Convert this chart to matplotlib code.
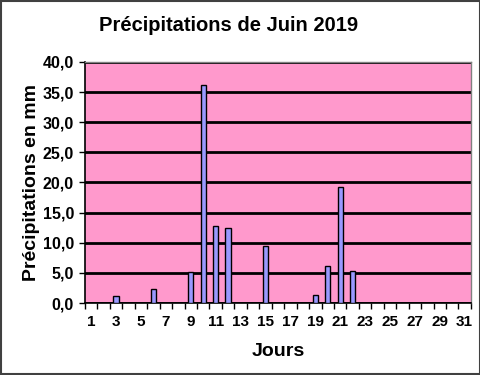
import matplotlib
matplotlib.use("Agg")
import matplotlib.pyplot as plt
import numpy as np

plt.rcParams['font.family'] = ['Liberation Sans', 'DejaVu Sans']
plt.rcParams['font.weight'] = 'bold'

jours = list(range(1, 32))
pluie = [0, 0, 1.1, 0, 0, 2.3, 0, 0, 5.1, 36.1, 12.8, 12.4, 0, 0, 9.4, 0,
         0, 0, 1.3, 6.2, 19.2, 5.3, 0, 0, 0, 0, 0, 0, 0, 0, 0]
yticks = [0, 5, 10, 15, 20, 25, 30, 35, 40]

fig = plt.figure(figsize=(4.81, 3.75), dpi=100)
ax = fig.add_axes([0.1767, 0.192, 0.8023, 0.643])
ax.set_facecolor('#FF99CC')

x = np.arange(len(jours))
mask = [v > 0 for v in pluie]
ax.bar(x[mask], np.array(pluie)[mask], width=0.43, color='#9999FF',
       edgecolor='black', linewidth=1.0, zorder=3)

ax.set_xlim(-0.5, len(jours) - 0.5)
ax.set_ylim(0, 40)
ax.set_yticks(yticks)
ax.set_yticklabels([f"{v:.1f}".replace('.', ',') for v in yticks], fontsize=11.5, fontweight='bold')
ax.yaxis.grid(True, color='black', linewidth=2, zorder=1)
ax.set_axisbelow(True)

ax.set_xticks(x[::2])
ax.set_xticklabels([str(j) for j in jours[::2]], fontsize=11, fontweight='bold')
ax.tick_params(axis='x', which='major', length=0, pad=9)
ax.set_xticks(np.arange(-0.5, len(jours), 1), minor=True)
ax.tick_params(axis='x', which='minor', length=4, width=1, color='black')
ax.tick_params(axis='y', length=4, width=1, pad=4)

for s in ['top', 'right']:
    ax.spines[s].set_color('#808080')
    ax.spines[s].set_linewidth(1)
for s in ['left', 'bottom']:
    ax.spines[s].set_color('black')
    ax.spines[s].set_linewidth(1.2)

ax.set_ylabel('Précipitations en mm', fontsize=14, fontweight='bold', labelpad=2)
ax.set_xlabel('Jours', fontsize=14, fontweight='bold', labelpad=10)
fig.text(0.476, 0.933, 'Précipitations de Juin 2019', fontsize=14.5,
         fontweight='bold', ha='center', va='center')

fig.patches.append(plt.Rectangle((0.002, 0.003), 0.995, 0.994, transform=fig.transFigure,
                                 fill=False, edgecolor='#404040', linewidth=1.5))

fig.savefig('out.png', dpi=100)
